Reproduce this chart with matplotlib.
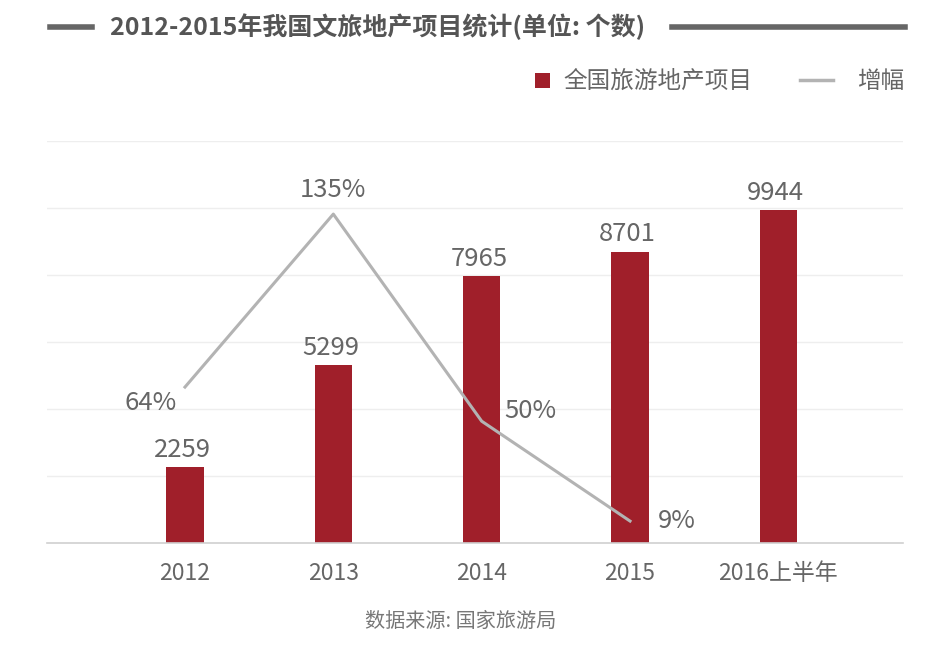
import matplotlib.pyplot as plt
import numpy as np
from matplotlib.lines import Line2D
from matplotlib.patches import Rectangle

plt.rcParams["font.family"] = ["Noto Sans CJK SC", "DejaVu Sans"]

# data
categories = ["2012", "2013", "2014", "2015", "2016上半年"]
projects = [2259, 5299, 7965, 8701, 9944]
growth_years = ["2012", "2013", "2014", "2015"]
growth = [64, 135, 50, 9]
bar_label = "全国旅游地产项目"
line_label = "增幅"

BAR_COLOR = "#a01f2a"
LINE_COLOR = "#b3b3b3"
TEXT_COLOR = "#666666"

W, H = 948, 650


def fx(px):
    return px / W


def fy(py):
    return 1 - py / H


fig = plt.figure(figsize=(9.48, 6.5), dpi=100)
ax = fig.add_axes([fx(47), fy(543), 856 / W, 402 / H])
ax2 = ax.twinx()

x = np.arange(len(categories))
ax.bar(x, projects, width=0.25, color=BAR_COLOR, zorder=2)
for xi, v in zip(x, projects):
    ax.annotate(str(v), (xi, v), xytext=(-2, 3), textcoords="offset points",
                ha="center", va="bottom", fontsize=18.5, color=TEXT_COLOR)

ax.set_ylim(0, 12000)
ax.set_yticks(np.arange(0, 12001, 2000))
ax.set_xlim(-0.93, len(categories) - 1 + 0.84)
ax.set_xticks(x)
ax.set_xticklabels(categories, fontsize=16.5, color=TEXT_COLOR)
ax.tick_params(axis="x", length=0, pad=14)
ax.tick_params(axis="y", length=0, labelleft=False)
ax.grid(axis="y", color="#eeeeee", linewidth=1, zorder=0)
ax.set_axisbelow(True)
for side in ["top", "left", "right"]:
    ax.spines[side].set_visible(False)
ax.spines["bottom"].set_color("#d0d0d0")
ax.spines["bottom"].set_linewidth(1.2)

# growth line on the secondary axis
gx = np.arange(len(growth_years))
ax2.plot(gx, growth, color=LINE_COLOR, linewidth=2.2, zorder=3)
ax2.set_ylim(0, 165)
ax2.axis("off")
offsets = [(-6, -2, "right", "top"), (0, 8, "center", "bottom"),
           (16, -2, "left", "bottom"), (20, -9, "left", "bottom")]
for xi, v, (dx, dy, ha, va) in zip(gx, growth, offsets):
    ax2.annotate(f"{v}%", (xi, v), xytext=(dx, dy), textcoords="offset points",
                 ha=ha, va=va, fontsize=18.5, color=TEXT_COLOR)

# title with side rules
fig.text(fx(378), fy(27), "2012-2015年我国文旅地产项目统计(单位: 个数)",
         ha="center", va="center", fontsize=18, fontweight="bold", color="#555555")
fig.add_artist(Line2D([fx(50), fx(92)], [fy(27)] * 2, color="#666666", linewidth=4))
fig.add_artist(Line2D([fx(672), fx(905)], [fy(27)] * 2, color="#666666", linewidth=4))

# legend, laid out by hand
fig.add_artist(Rectangle((fx(535), fy(88)), 15 / W, 15 / H, facecolor=BAR_COLOR,
                         edgecolor="none", transform=fig.transFigure))
fig.text(fx(563), fy(81), bar_label, ha="left", va="center", fontsize=17,
         color=TEXT_COLOR)
fig.add_artist(Line2D([fx(800), fx(833)], [fy(80)] * 2, color=LINE_COLOR, linewidth=2.5))
fig.text(fx(857), fy(81), line_label, ha="left", va="center", fontsize=17,
         color=TEXT_COLOR)

# source
fig.text(fx(461), fy(621), "数据来源: 国家旅游局", ha="center", va="center",
         fontsize=14.5, style="italic", color="#777777")

fig.savefig("out.png", dpi=100)
